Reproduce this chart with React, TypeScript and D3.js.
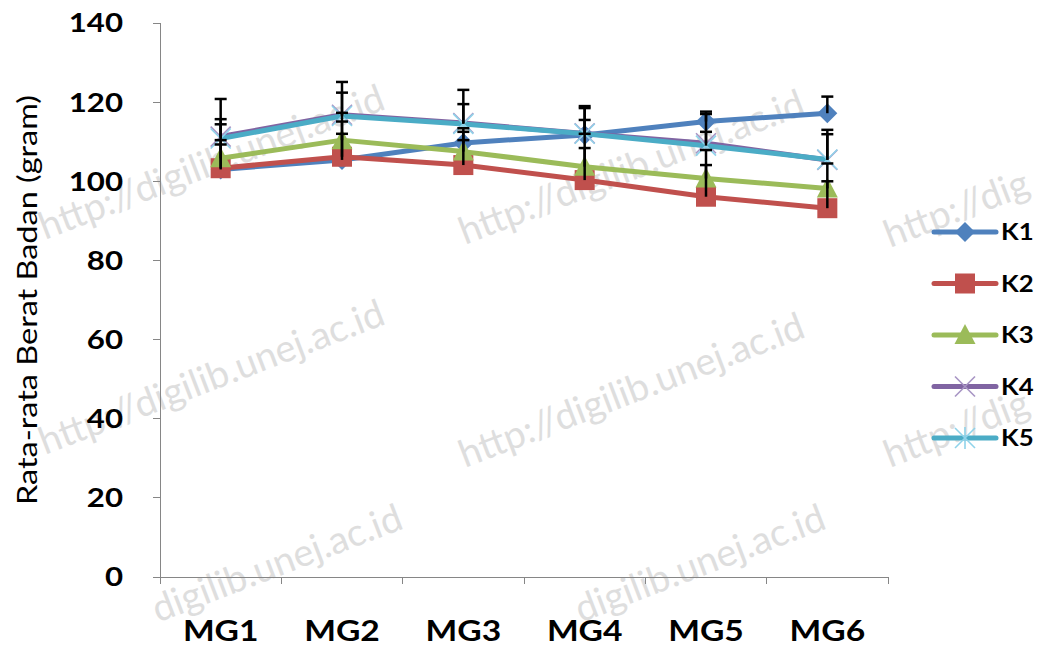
import React from "react";
import * as d3 from "d3";

const categories = ["MG1", "MG2", "MG3", "MG4", "MG5", "MG6"];
const seriesNames = ["K1", "K2", "K3", "K4", "K5"];
const k1 = [103.0, 105.4, 109.7, 111.7, 115.1, 117.2];
const k2 = [103.3, 106.2, 104.1, 100.3, 96.1, 93.2];
const k3 = [105.8, 110.4, 107.5, 103.7, 100.7, 98.2];
const k4 = [111.3, 116.8, 114.7, 112.1, 109.6, 105.4];
const k5 = [110.8, 116.5, 114.5, 112.0, 109.0, 105.5];
const k1Err = [6.3, 6.6, 2.8, 3.8, 2.5, 4.2];
const k2Err = [7.1, 8.9, 6.3, 8.1, 8.0, 6.8];
const k3Err = [8.6, 6.9, 5.9, 8.3, 7.2, 6.3];
const k4Err = [9.5, 8.3, 8.4, 6.9, 7.4, 7.6];
const k5Err = [4.9, 5.9, 5.0, 6.5, 3.5, 6.4];
const yTicks = [0, 20, 40, 60, 80, 100, 120, 140];
const yTitle = "Rata-rata Berat Badan (gram)";
const watermark = "http://digilib.unej.ac.id";
const watermarkRight = "http://dig";
const watermarkBottom = "digilib.unej.ac.id";

const colors = ["#4F81BD", "#C0504D", "#9BBB59", "#8064A2", "#4BACC6"];
const markerTypes = ["diamond", "square", "triangle", "x", "star"];

const W = 1039, H = 647;
const left = 160, right = 888, top = 23, bottom = 577;
const FONT = "Lato, 'Open Sans', sans-serif";

function Marker({ type, x, y, color }: { type: string; x: number; y: number; color: string }) {
  const s = 10;
  if (type === "diamond") {
    return <path d={`M${x},${y - s}L${x + s},${y}L${x},${y + s}L${x - s},${y}Z`} fill={color} />;
  }
  if (type === "square") {
    return <rect x={x - 10} y={y - 10} width={20} height={20} fill={color} />;
  }
  if (type === "triangle") {
    return <path d={`M${x},${y - 11}L${x + 10.5},${y + 9}L${x - 10.5},${y + 9}Z`} fill={color} />;
  }
  if (type === "x") {
    const c = "#A794C4";
    return (
      <g stroke={c} strokeWidth={1.6}>
        <line x1={x - 10} y1={y - 10} x2={x + 10} y2={y + 10} />
        <line x1={x - 10} y1={y + 10} x2={x + 10} y2={y - 10} />
      </g>
    );
  }
  const c = "#8FD3EA";
  return (
    <g stroke={c} strokeWidth={1.6}>
      <line x1={x - 10} y1={y - 10} x2={x + 10} y2={y + 10} />
      <line x1={x - 10} y1={y + 10} x2={x + 10} y2={y - 10} />
      <line x1={x} y1={y - 11} x2={x} y2={y + 11} />
    </g>
  );
}

export default function App() {
  const values = [k1, k2, k3, k4, k5];
  const errs = [k1Err, k2Err, k3Err, k4Err, k5Err];
  const x = d3.scaleBand<string>().domain(categories).range([left, right]).padding(0);
  const y = d3.scaleLinear().domain([0, 140]).range([bottom, top]);
  const cx = (c: string) => (x(c) as number) + x.bandwidth() / 2;
  const line = d3
    .line<number>()
    .x((_, i) => cx(categories[i]))
    .y((v) => y(v));

  const wmFull = [
    { x: 45, y: 240 }, { x: 465, y: 245 },
    { x: 45, y: 455 }, { x: 465, y: 468 },
  ];
  const wmRight = [{ x: 890, y: 248 }, { x: 890, y: 468 }];
  const wmBottom = [{ x: 405, y: 528 }, { x: 828, y: 528 }];

  const bandEdges = categories.map((c) => x(c) as number).concat([right]);

  return (
    <svg width={W} height={H} style={{ position: "absolute", left: 0, top: 0, background: "#fff" }}>
      <rect width={W} height={H} fill="#fff" />
      <g fontFamily={FONT} fontSize={38} fill="#dedede">
        {wmFull.map((p, i) => (
          <text key={i} x={p.x} y={p.y} transform={`rotate(-21 ${p.x} ${p.y})`}>{watermark}</text>
        ))}
        {wmRight.map((p, i) => (
          <text key={i} x={p.x} y={p.y} transform={`rotate(-21 ${p.x} ${p.y})`}>{watermarkRight}</text>
        ))}
        {wmBottom.map((p, i) => (
          <text key={i} x={p.x} y={p.y} textAnchor="end" transform={`rotate(-21 ${p.x} ${p.y})`}>{watermarkBottom}</text>
        ))}
      </g>
      {/* axes */}
      <g stroke="#868686" strokeWidth={1} shapeRendering="crispEdges">
        <line x1={left} y1={top} x2={left} y2={bottom + 7} />
        <line x1={left} y1={bottom} x2={right} y2={bottom} />
        {yTicks.map((t) => (
          <line key={t} x1={left - 7} x2={left} y1={y(t)} y2={y(t)} />
        ))}
        {bandEdges.map((e, i) => (
          <line key={i} x1={e} x2={e} y1={bottom} y2={bottom + 7} />
        ))}
      </g>
      {yTicks.map((t) => (
        <text key={t} transform={`translate(123,${y(t)}) scale(1.2,1)`} dy="0.36em" textAnchor="end"
          fontFamily={FONT} fontWeight="bold" fontSize={26} fill="#000">{t}</text>
      ))}
      {categories.map((c) => (
        <text key={c} transform={`translate(${cx(c)},641) scale(1.2,1)`} textAnchor="middle"
          fontFamily={FONT} fontWeight="bold" fontSize={28} fill="#000">{c}</text>
      ))}
      <text transform={`translate(37,300) rotate(-90)`} textAnchor="middle"
        fontFamily={FONT} fontSize={27} textLength={410} lengthAdjust="spacingAndGlyphs" fill="#000">{yTitle}</text>
      {/* series */}
      {values.map((vals, si) => (
        <g key={si}>
          <path d={line(vals) as string} fill="none" stroke={colors[si]} strokeWidth={5} strokeLinejoin="round" />
          {vals.map((v, i) => (
            <Marker key={i} type={markerTypes[si]} x={cx(categories[i])} y={y(v)} color={colors[si]} />
          ))}
        </g>
      ))}
      {/* error bars */}
      <g stroke="#000" strokeWidth={2.5}>
        {values.map((vals, si) =>
          vals.map((v, i) => {
            const px = cx(categories[i]);
            const yt = y(v + errs[si][i]);
            return (
              <g key={`${si}-${i}`}>
                <line x1={px} x2={px} y1={y(v)} y2={yt} />
                <line x1={px - 6} x2={px + 6} y1={yt} y2={yt} />
              </g>
            );
          })
        )}
      </g>
      {/* legend */}
      {seriesNames.map((n, i) => {
        const ly = 232 + i * 51.5;
        return (
          <g key={n}>
            <line x1={934} x2={996} y1={ly} y2={ly} stroke={colors[i]} strokeWidth={5} strokeLinecap="round" />
            <Marker type={markerTypes[i]} x={965} y={ly} color={colors[i]} />
            <text transform={`translate(1001,${ly}) scale(1.12,1)`} dy="0.36em" fontFamily={FONT} fontWeight="bold" fontSize={23} fill="#000">{n}</text>
          </g>
        );
      })}
    </svg>
  );
}
